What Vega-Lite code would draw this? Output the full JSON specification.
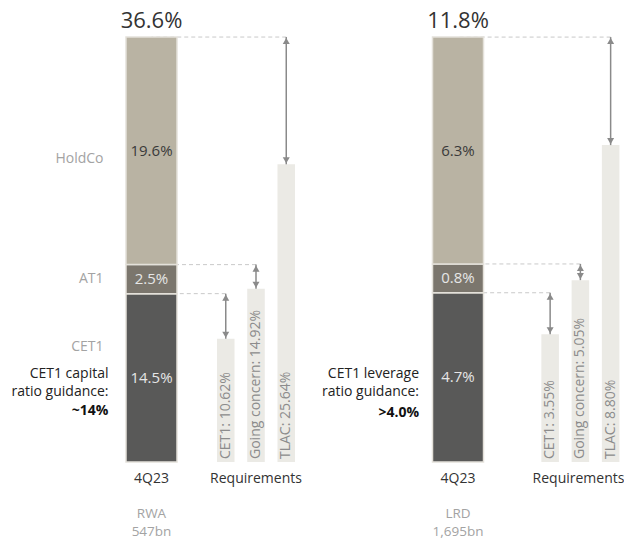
{
  "$schema": "https://vega.github.io/schema/vega-lite/v6.json",
  "background": "white",
  "padding": 0,
  "spacing": 0,
  "config": {"view": {"stroke": null}, "font": "Open Sans"},
  "datasets": {
    "l_seg": [
      {"grp": "4Q23", "seg": "CET1", "level": 1, "value": 14.5, "label": "14.5%"},
      {"grp": "4Q23", "seg": "AT1", "level": 2, "value": 2.5, "label": "2.5%"},
      {"grp": "4Q23", "seg": "HoldCo", "level": 3, "value": 19.6, "label": "19.6%"}
    ],
    "l_req": [
      {"grp": "Requirements", "req": "CET1", "value": 10.62, "capital": 14.5, "label": "CET1: 10.62%"},
      {"grp": "Requirements", "req": "Going concern", "value": 14.92, "capital": 17.0, "label": "Going concern: 14.92%"},
      {"grp": "Requirements", "req": "TLAC", "value": 25.64, "capital": 36.6, "label": "TLAC: 25.64%"}
    ],
    "l_tot": [
      {"grp": "4Q23", "total": 36.6, "label": "36.6%", "base1": "RWA", "base2": "547bn", "guide": ["CET1 capital", "ratio guidance:"], "target": "~14%"}
    ],
    "r_seg": [
      {"grp": "4Q23", "seg": "CET1", "level": 1, "value": 4.7, "label": "4.7%"},
      {"grp": "4Q23", "seg": "AT1", "level": 2, "value": 0.8, "label": "0.8%"},
      {"grp": "4Q23", "seg": "HoldCo", "level": 3, "value": 6.3, "label": "6.3%"}
    ],
    "r_req": [
      {"grp": "Requirements", "req": "CET1", "value": 3.55, "capital": 4.7, "label": "CET1: 3.55%"},
      {"grp": "Requirements", "req": "Going concern", "value": 5.05, "capital": 5.5, "label": "Going concern: 5.05%"},
      {"grp": "Requirements", "req": "TLAC", "value": 8.80, "capital": 11.8, "label": "TLAC: 8.80%"}
    ],
    "r_tot": [
      {"grp": "4Q23", "total": 11.8, "label": "11.8%", "base1": "LRD", "base2": "1,695bn", "guide": ["CET1 leverage", "ratio guidance:"], "target": ">4.0%"}
    ]
  },
  "hconcat": [
    {
      "width": 312,
      "height": 462,
      "layer": [
        {
          "data": {"name": "l_req"},
          "mark": {"type": "rule", "color": "#c9c9c9", "strokeWidth": 1, "strokeDash": [4, 3]},
          "encoding": {
            "x": {"field": "grp", "type": "nominal", "scale": {"domain": ["4Q23", "Requirements"], "paddingInner": 0.1316, "paddingOuter": 0.5586, "align": 0.909}, "axis": {"title": null, "labelAngle": 0, "domain": false, "ticks": false, "labelPadding": 9, "labelFontSize": 14, "labelColor": "#333333"}},
            "xOffset": {"field": "req", "type": "nominal", "scale": {"domain": ["CET1", "Going concern", "TLAC"], "paddingInner": 0.42, "paddingOuter": 0.21}},
            "x2": {"datum": "4Q23"},
            "y": {"field": "capital", "type": "quantitative", "scale": {"domain": [0, 39.79], "nice": false}, "axis": null}
          }
        },
        {
          "data": {"name": "l_seg"},
          "mark": {"type": "bar", "width": 51, "stroke": "#e4e1da", "strokeWidth": 1.5},
          "encoding": {
            "x": {"field": "grp", "type": "nominal"},
            "y": {"field": "value", "type": "quantitative", "stack": "zero"},
            "order": {"field": "level", "type": "quantitative"},
            "detail": {"field": "seg"},
            "color": {"field": "seg", "type": "nominal", "scale": {"domain": ["CET1", "AT1", "HoldCo"], "range": ["#595958", "#7b766d", "#b9b3a3"]}, "legend": null}
          }
        },
        {
          "data": {"name": "l_req"},
          "mark": {"type": "bar", "color": "#ebeae5"},
          "encoding": {
            "x": {"field": "grp", "type": "nominal"},
            "xOffset": {"field": "req", "type": "nominal"},
            "y": {"field": "value", "type": "quantitative", "stack": null}
          }
        },
        {
          "data": {"name": "l_req"},
          "mark": {"type": "text", "angle": 270, "align": "left", "baseline": "middle", "dx": 3, "fontSize": 14, "color": "#8c8c8c"},
          "encoding": {
            "x": {"field": "grp", "type": "nominal"},
            "xOffset": {"field": "req", "type": "nominal"},
            "y": {"datum": 0, "type": "quantitative"},
            "text": {"field": "label"}
          }
        },
        {
          "data": {"name": "l_req"},
          "mark": {"type": "rule", "color": "#8a8a8a", "strokeWidth": 1.5},
          "encoding": {
            "x": {"field": "grp", "type": "nominal"},
            "xOffset": {"field": "req", "type": "nominal"},
            "y": {"field": "value", "type": "quantitative"},
            "y2": {"field": "capital"}
          }
        },
        {
          "data": {"name": "l_req"},
          "mark": {"type": "point", "shape": "triangle-up", "filled": true, "size": 49, "color": "#8a8a8a", "opacity": 1, "yOffset": 4},
          "encoding": {
            "x": {"field": "grp", "type": "nominal"},
            "xOffset": {"field": "req", "type": "nominal"},
            "y": {"field": "capital", "type": "quantitative"}
          }
        },
        {
          "data": {"name": "l_req"},
          "mark": {"type": "point", "shape": "triangle-down", "filled": true, "size": 49, "color": "#8a8a8a", "opacity": 1, "yOffset": -4},
          "encoding": {
            "x": {"field": "grp", "type": "nominal"},
            "xOffset": {"field": "req", "type": "nominal"},
            "y": {"field": "value", "type": "quantitative"}
          }
        },
        {
          "data": {"name": "l_seg"},
          "mark": {"type": "text", "baseline": "middle", "fontSize": 15},
          "encoding": {
            "x": {"field": "grp", "type": "nominal"},
            "y": {"field": "value", "type": "quantitative", "stack": "zero", "bandPosition": 0.5},
            "order": {"field": "level", "type": "quantitative"},
            "detail": {"field": "seg"},
            "text": {"field": "label"},
            "color": {"condition": {"test": "datum.seg === 'HoldCo'", "value": "#3a3a3a"}, "value": "#e6e6e6"}
          }
        },
        {
          "data": {"name": "l_seg"},
          "mark": {"type": "text", "baseline": "middle", "align": "right", "fontSize": 14, "dx": -48, "dy": 8, "color": "#a3a3a3"},
          "encoding": {
            "x": {"field": "grp", "type": "nominal"},
            "y": {"field": "value", "type": "quantitative", "stack": "zero", "bandPosition": 0.5},
            "order": {"field": "level", "type": "quantitative"},
            "detail": {"field": "seg"},
            "text": {"condition": {"test": "datum.seg === 'HoldCo'", "field": "seg"}, "value": ""}
          }
        },
        {
          "data": {"name": "l_seg"},
          "mark": {"type": "text", "baseline": "middle", "align": "right", "fontSize": 14, "dx": -48, "dy": 0, "color": "#a3a3a3"},
          "encoding": {
            "x": {"field": "grp", "type": "nominal"},
            "y": {"field": "value", "type": "quantitative", "stack": "zero", "bandPosition": 0.5},
            "order": {"field": "level", "type": "quantitative"},
            "detail": {"field": "seg"},
            "text": {"condition": {"test": "datum.seg === 'AT1'", "field": "seg"}, "value": ""}
          }
        },
        {
          "data": {"name": "l_seg"},
          "mark": {"type": "text", "baseline": "middle", "align": "right", "fontSize": 14, "dx": -48, "dy": -31, "color": "#a3a3a3"},
          "encoding": {
            "x": {"field": "grp", "type": "nominal"},
            "y": {"field": "value", "type": "quantitative", "stack": "zero", "bandPosition": 0.5},
            "order": {"field": "level", "type": "quantitative"},
            "detail": {"field": "seg"},
            "text": {"condition": {"test": "datum.seg === 'CET1'", "field": "seg"}, "value": ""}
          }
        },
        {
          "data": {"name": "l_tot"},
          "mark": {"type": "text", "baseline": "alphabetic", "align": "right", "fontSize": 14, "dx": -43, "dy": -84, "lineHeight": 18, "color": "#222222"},
          "encoding": {
            "x": {"field": "grp", "type": "nominal"},
            "y": {"datum": 0, "type": "quantitative"},
            "text": {"field": "guide"}
          }
        },
        {
          "data": {"name": "l_tot"},
          "mark": {"type": "text", "baseline": "alphabetic", "align": "right", "fontSize": 14, "fontWeight": "bold", "dx": -43, "dy": -47, "color": "#111111"},
          "encoding": {
            "x": {"field": "grp", "type": "nominal"},
            "y": {"datum": 0, "type": "quantitative"},
            "text": {"field": "target"}
          }
        },
        {
          "data": {"name": "l_tot"},
          "mark": {"type": "text", "baseline": "alphabetic", "fontSize": 22, "dy": -9, "color": "#333333"},
          "encoding": {
            "x": {"field": "grp", "type": "nominal"},
            "y": {"field": "total", "type": "quantitative"},
            "text": {"field": "label"}
          }
        },
        {
          "data": {"name": "l_tot"},
          "mark": {"type": "text", "baseline": "alphabetic", "fontSize": 13.5, "dy": 56, "color": "#a3a3a3"},
          "encoding": {
            "x": {"field": "grp", "type": "nominal"},
            "y": {"datum": 0, "type": "quantitative"},
            "text": {"field": "base1"}
          }
        },
        {
          "data": {"name": "l_tot"},
          "mark": {"type": "text", "baseline": "alphabetic", "fontSize": 13.5, "dy": 74, "color": "#a3a3a3"},
          "encoding": {
            "x": {"field": "grp", "type": "nominal"},
            "y": {"datum": 0, "type": "quantitative"},
            "text": {"field": "base2"}
          }
        }
      ]
    },
    {
      "width": 312,
      "height": 462,
      "layer": [
        {
          "data": {"name": "r_req"},
          "mark": {"type": "rule", "color": "#c9c9c9", "strokeWidth": 1, "strokeDash": [4, 3]},
          "encoding": {
            "x": {"field": "grp", "type": "nominal", "scale": {"domain": ["4Q23", "Requirements"], "paddingInner": 0.278, "paddingOuter": 0.4336, "align": 0.981}, "axis": {"title": null, "labelAngle": 0, "domain": false, "ticks": false, "labelPadding": 9, "labelFontSize": 14, "labelColor": "#333333"}},
            "xOffset": {"field": "req", "type": "nominal", "scale": {"domain": ["CET1", "Going concern", "TLAC"], "paddingInner": 0.379, "paddingOuter": 0.19}},
            "x2": {"datum": "4Q23"},
            "y": {"field": "capital", "type": "quantitative", "scale": {"domain": [0, 12.83], "nice": false}, "axis": null}
          }
        },
        {
          "data": {"name": "r_seg"},
          "mark": {"type": "bar", "width": 51, "stroke": "#e4e1da", "strokeWidth": 1.5},
          "encoding": {
            "x": {"field": "grp", "type": "nominal"},
            "y": {"field": "value", "type": "quantitative", "stack": "zero"},
            "order": {"field": "level", "type": "quantitative"},
            "detail": {"field": "seg"},
            "color": {"field": "seg", "type": "nominal", "scale": {"domain": ["CET1", "AT1", "HoldCo"], "range": ["#595958", "#7b766d", "#b9b3a3"]}, "legend": null}
          }
        },
        {
          "data": {"name": "r_req"},
          "mark": {"type": "bar", "color": "#ebeae5"},
          "encoding": {
            "x": {"field": "grp", "type": "nominal"},
            "xOffset": {"field": "req", "type": "nominal"},
            "y": {"field": "value", "type": "quantitative", "stack": null}
          }
        },
        {
          "data": {"name": "r_req"},
          "mark": {"type": "text", "angle": 270, "align": "left", "baseline": "middle", "dx": 3, "fontSize": 14, "color": "#8c8c8c"},
          "encoding": {
            "x": {"field": "grp", "type": "nominal"},
            "xOffset": {"field": "req", "type": "nominal"},
            "y": {"datum": 0, "type": "quantitative"},
            "text": {"field": "label"}
          }
        },
        {
          "data": {"name": "r_req"},
          "mark": {"type": "rule", "color": "#8a8a8a", "strokeWidth": 1.5},
          "encoding": {
            "x": {"field": "grp", "type": "nominal"},
            "xOffset": {"field": "req", "type": "nominal"},
            "y": {"field": "value", "type": "quantitative"},
            "y2": {"field": "capital"}
          }
        },
        {
          "data": {"name": "r_req"},
          "mark": {"type": "point", "shape": "triangle-up", "filled": true, "size": 49, "color": "#8a8a8a", "opacity": 1, "yOffset": 4},
          "encoding": {
            "x": {"field": "grp", "type": "nominal"},
            "xOffset": {"field": "req", "type": "nominal"},
            "y": {"field": "capital", "type": "quantitative"}
          }
        },
        {
          "data": {"name": "r_req"},
          "mark": {"type": "point", "shape": "triangle-down", "filled": true, "size": 49, "color": "#8a8a8a", "opacity": 1, "yOffset": -4},
          "encoding": {
            "x": {"field": "grp", "type": "nominal"},
            "xOffset": {"field": "req", "type": "nominal"},
            "y": {"field": "value", "type": "quantitative"}
          }
        },
        {
          "data": {"name": "r_seg"},
          "mark": {"type": "text", "baseline": "middle", "fontSize": 15},
          "encoding": {
            "x": {"field": "grp", "type": "nominal"},
            "y": {"field": "value", "type": "quantitative", "stack": "zero", "bandPosition": 0.5},
            "order": {"field": "level", "type": "quantitative"},
            "detail": {"field": "seg"},
            "text": {"field": "label"},
            "color": {"condition": {"test": "datum.seg === 'HoldCo'", "value": "#3a3a3a"}, "value": "#e6e6e6"}
          }
        },
        {
          "data": {"name": "r_tot"},
          "mark": {"type": "text", "baseline": "alphabetic", "align": "right", "fontSize": 14, "dx": -39, "dy": -84, "lineHeight": 18, "color": "#222222"},
          "encoding": {
            "x": {"field": "grp", "type": "nominal"},
            "y": {"datum": 0, "type": "quantitative"},
            "text": {"field": "guide"}
          }
        },
        {
          "data": {"name": "r_tot"},
          "mark": {"type": "text", "baseline": "alphabetic", "align": "right", "fontSize": 14, "fontWeight": "bold", "dx": -39, "dy": -45, "color": "#111111"},
          "encoding": {
            "x": {"field": "grp", "type": "nominal"},
            "y": {"datum": 0, "type": "quantitative"},
            "text": {"field": "target"}
          }
        },
        {
          "data": {"name": "r_tot"},
          "mark": {"type": "text", "baseline": "alphabetic", "fontSize": 22, "dy": -9, "color": "#333333"},
          "encoding": {
            "x": {"field": "grp", "type": "nominal"},
            "y": {"field": "total", "type": "quantitative"},
            "text": {"field": "label"}
          }
        },
        {
          "data": {"name": "r_tot"},
          "mark": {"type": "text", "baseline": "alphabetic", "fontSize": 13.5, "dy": 56, "color": "#a3a3a3"},
          "encoding": {
            "x": {"field": "grp", "type": "nominal"},
            "y": {"datum": 0, "type": "quantitative"},
            "text": {"field": "base1"}
          }
        },
        {
          "data": {"name": "r_tot"},
          "mark": {"type": "text", "baseline": "alphabetic", "fontSize": 13.5, "dy": 74, "color": "#a3a3a3"},
          "encoding": {
            "x": {"field": "grp", "type": "nominal"},
            "y": {"datum": 0, "type": "quantitative"},
            "text": {"field": "base2"}
          }
        }
      ]
    }
  ]
}
